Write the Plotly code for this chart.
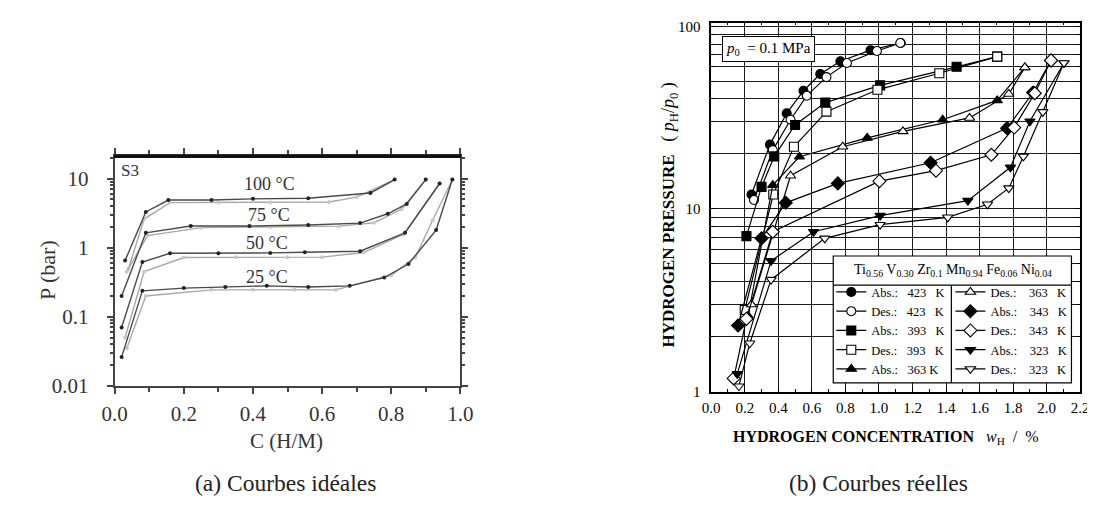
import plotly.graph_objects as go

W, H = 1095, 505

# ---------------- (a) ideal curves : C (H/M) vs P (bar) ----------------
c100_abs = [0.03, 0.09, 0.155, 0.28, 0.40, 0.56, 0.74, 0.81]
p100_abs = [0.65, 3.3, 4.9, 4.9, 5.1, 5.2, 6.2, 9.7]
c100_des = [0.04, 0.085, 0.16, 0.30, 0.45, 0.62, 0.70, 0.81]
p100_des = [0.5, 2.6, 4.5, 4.5, 4.5, 4.6, 5.4, 9.7]

c75_abs = [0.02, 0.09, 0.22, 0.39, 0.56, 0.71, 0.79, 0.845, 0.90]
p75_abs = [0.2, 1.64, 2.06, 2.06, 2.13, 2.27, 3.1, 4.3, 9.7]
c75_des = [0.035, 0.095, 0.25, 0.45, 0.65, 0.75, 0.83, 0.90]
p75_des = [0.45, 1.5, 1.95, 2.0, 2.05, 2.3, 3.6, 9.7]

c50_abs = [0.02, 0.08, 0.16, 0.30, 0.45, 0.55, 0.71, 0.84, 0.94]
p50_abs = [0.07, 0.62, 0.83, 0.83, 0.84, 0.86, 0.89, 1.64, 8.5]
c50_des = [0.03, 0.085, 0.20, 0.35, 0.50, 0.60, 0.72, 0.835, 0.94]
p50_des = [0.05, 0.45, 0.72, 0.73, 0.73, 0.73, 0.85, 1.55, 8.5]

c25_abs = [0.02, 0.08, 0.20, 0.32, 0.44, 0.56, 0.68, 0.78, 0.85, 0.93, 0.977]
p25_abs = [0.026, 0.237, 0.26, 0.27, 0.28, 0.27, 0.28, 0.37, 0.58, 1.8, 9.7]
c25_des = [0.035, 0.09, 0.28, 0.40, 0.52, 0.64, 0.80, 0.87, 0.92, 0.977]
p25_des = [0.035, 0.2, 0.245, 0.245, 0.245, 0.245, 0.4, 0.73, 2.5, 9.7]

temp_labels = ["100 °C", "75 °C", "50 °C", "25 °C"]

xa_ticks = [0.0, 0.2, 0.4, 0.6, 0.8, 1.0]
xa_ticktext = ["0.0", "0.2", "0.4", "0.6", "0.8", "1.0"]
xa_minor = [0.1, 0.3, 0.5, 0.7, 0.9]
ya_ticks = [0.01, 0.1, 1, 10]
ya_ticktext = ["0.01", "0.1", "1", "10"]
ya_minor = [0.02, 0.03, 0.04, 0.05, 0.06, 0.07, 0.08, 0.09,
            0.2, 0.3, 0.4, 0.5, 0.6, 0.7, 0.8, 0.9,
            2, 3, 4, 5, 6, 7, 8, 9, 20]

# ---------------- (b) real curves : w_H (%) vs p_H/p_0 ----------------
w_abs423 = [0.24, 0.35, 0.45, 0.55, 0.65, 0.77, 0.95, 1.13]
p_abs423 = [12.0, 22.5, 33.4, 44.4, 54.8, 64.4, 74, 81]
w_des423 = [0.255, 0.367, 0.473, 0.57, 0.687, 0.809, 0.988, 1.127]
p_des423 = [11.2, 21, 30.8, 41.7, 52.7, 63, 73.3, 81]

w_abs393 = [0.21, 0.30, 0.376, 0.50, 0.68, 1.007, 1.463, 1.705]
p_abs393 = [7.1, 13.2, 19.4, 28.8, 38.2, 47.5, 60, 68.2]
w_des393 = [0.2, 0.37, 0.493, 0.687, 0.991, 1.36, 1.705]
p_des393 = [2.8, 12, 21.9, 34.1, 44.9, 55.3, 68.2]

w_abs363 = [0.22, 0.367, 0.526, 0.93, 1.38, 1.705, 1.87]
p_abs363 = [2.6, 13.5, 19.3, 24.5, 30.8, 39.3, 59.5]
w_des363 = [0.24, 0.473, 0.784, 1.143, 1.54, 1.774, 1.87]
p_des363 = [3.0, 15.2, 21.9, 26.6, 31.5, 42.6, 59.5]

w_abs343 = [0.16, 0.30, 0.444, 0.755, 1.308, 1.764, 1.919, 2.026]
p_abs343 = [2.3, 6.9, 10.8, 13.8, 17.9, 27.7, 43.4, 65]
w_des343 = [0.134, 0.21, 0.367, 1.003, 1.34, 1.67, 1.806, 1.929, 2.026]
p_des343 = [1.18, 2.5, 7.5, 14.2, 16.2, 19.8, 27.9, 43, 65]

w_abs323 = [0.155, 0.357, 0.61, 1.007, 1.53, 1.784, 1.90, 2.103]
p_abs323 = [1.25, 5.2, 7.5, 9.2, 11.1, 16.9, 30.2, 63]
w_des323 = [0.165, 0.23, 0.357, 0.677, 1.007, 1.41, 1.647, 1.774, 1.861, 1.977, 2.103]
p_des323 = [1.07, 1.84, 4.1, 6.9, 8.2, 9.0, 10.6, 13, 19.4, 34, 63]

NB = "\u00a0"
legend_names = [f"Abs.:{NB*3}423{NB*3}K", f"Des.:{NB*3}423{NB*3}K",
                f"Abs.:{NB*3}393{NB*3}K", f"Des.:{NB*3}393{NB*3}K",
                f"Abs.:{NB*3}363{NB*1}K", f"Des.:{NB*4}363{NB*3}K",
                f"Abs.:{NB*4}343{NB*3}K", f"Des.:{NB*4}343{NB*3}K",
                f"Abs.:{NB*4}323{NB*3}K", f"Des.:{NB*4}323{NB*3}K"]

xb_ticks = [0.0, 0.2, 0.4, 0.6, 0.8, 1.0, 1.2, 1.4, 1.6, 1.8, 2.0, 2.2]
xb_ticktext = ["0.0", "0.2", "0.4", "0.6", "0.8", "1.0", "1.2", "1.4", "1.6", "1.8", "2.0", "2.2"]
xb_minor = [0.1, 0.3, 0.5, 0.7, 0.9, 1.1, 1.3, 1.5, 1.7, 1.9, 2.1]
yb_ticks = [1, 10, 100]
yb_ticktext = ["1", "10", "100"]
yb_minor = [2, 3, 4, 5, 6, 7, 8, 9, 20, 30, 40, 50, 60, 70, 80, 90]


def px(x):
    return x / W


def py(y):
    return 1 - y / H


fig = go.Figure()

# ---- (a) traces ----
ABS_C, DES_C = "#4a4a4a", "#a8a8a8"
for cx, cy, col, mcol in [
    (c100_des, p100_des, DES_C, "#c8c8c8"), (c100_abs, p100_abs, ABS_C, "#222"),
    (c75_des, p75_des, DES_C, "#c8c8c8"), (c75_abs, p75_abs, ABS_C, "#222"),
    (c50_des, p50_des, DES_C, "#c8c8c8"), (c50_abs, p50_abs, ABS_C, "#222"),
    (c25_des, p25_des, DES_C, "#c8c8c8"), (c25_abs, p25_abs, ABS_C, "#222"),
]:
    fig.add_trace(go.Scatter(
        x=cx, y=cy, mode="lines+markers", xaxis="x", yaxis="y", showlegend=False,
        line=dict(color=col, width=1.4),
        marker=dict(size=4, color=mcol, line=dict(width=0)),
        hoverinfo="skip"))

# ---- (b) traces ----
series_b = [
    (w_abs423, p_abs423, "circle", True, "legend"),
    (w_des423, p_des423, "circle", False, "legend"),
    (w_abs393, p_abs393, "square", True, "legend"),
    (w_des393, p_des393, "square", False, "legend"),
    (w_abs363, p_abs363, "triangle-up", True, "legend"),
    (w_des363, p_des363, "triangle-up", False, "legend2"),
    (w_abs343, p_abs343, "diamond", True, "legend2"),
    (w_des343, p_des343, "diamond", False, "legend2"),
    (w_abs323, p_abs323, "triangle-down", True, "legend2"),
    (w_des323, p_des323, "triangle-down", False, "legend2"),
]
for (wx, py_, sym, filled, lg), name in zip(series_b, legend_names):
    fig.add_trace(go.Scatter(
        x=wx, y=py_, mode="lines+markers", xaxis="x2", yaxis="y2", name=name, legend=lg,
        line=dict(color="black", width=1.2),
        marker=dict(symbol=sym, size=9 if sym != "diamond" else 10,
                    color="black" if filled else "white",
                    line=dict(color="black", width=1.1)),
        hoverinfo="skip"))

serif = "Liberation Serif"
grey_txt = "#333"

fig.update_layout(
    width=W, height=H,
    margin=dict(l=0, r=0, t=0, b=0),
    paper_bgcolor="white", plot_bgcolor="rgba(0,0,0,0)",
    font=dict(family=serif, color="black"),
    xaxis=dict(domain=[px(96), px(450)], range=[0, 1], anchor="y",
               tickmode="array", tickvals=xa_ticks, ticktext=xa_ticktext,
               ticks="outside", ticklen=6, tickwidth=1.5, tickcolor="#444",
               minor=dict(tickmode="array", tickvals=xa_minor, ticks="outside", ticklen=4, tickcolor="#444"),
               showline=True, linecolor="#444", linewidth=2, mirror="ticks",
               showgrid=False, zeroline=False, ticklabelstandoff=2,
               tickfont=dict(family=serif, size=21, color=grey_txt)),
    yaxis=dict(domain=[py(386), py(149)], type="log", range=[-2, 1.324], anchor="x",
               tickmode="array", tickvals=ya_ticks, ticktext=ya_ticktext,
               ticks="outside", ticklen=6, tickwidth=1.5, tickcolor="#444",
               minor=dict(tickmode="array", tickvals=ya_minor, ticks="outside", ticklen=3, tickcolor="#444"),
               showline=True, linecolor="#444", linewidth=2, mirror="ticks",
               showgrid=False, zeroline=False, ticklabelstandoff=14,
               tickfont=dict(family=serif, size=21, color=grey_txt)),
    xaxis2=dict(domain=[px(707), px(1085)], range=[0, 2.2], anchor="y2",
                tickmode="array", tickvals=xb_ticks, ticktext=xb_ticktext,
                ticks="inside", ticklen=5, tickcolor="black",
                minor=dict(tickmode="array", tickvals=xb_minor, ticks="inside", ticklen=3,
                           tickcolor="black", showgrid=False),
                showline=True, linecolor="black", linewidth=1.5, mirror="ticks",
                showgrid=True, gridcolor="#1a1a1a", gridwidth=1, zeroline=False,
                ticklabelstandoff=2,
                tickfont=dict(family=serif, size=15, color="black")),
    yaxis2=dict(domain=[py(392), py(11)], type="log", range=[0, 2.02], anchor="x2",
                tickmode="array", tickvals=yb_ticks, ticktext=yb_ticktext,
                ticks="inside", ticklen=5, tickcolor="black",
                minor=dict(tickmode="array", tickvals=yb_minor, ticks="inside", ticklen=3,
                           tickcolor="black", showgrid=True, gridcolor="#1a1a1a", gridwidth=1),
                showline=True, linecolor="black", linewidth=1.5, mirror="ticks",
                showgrid=True, gridcolor="#1a1a1a", gridwidth=1, zeroline=False,
                ticklabelstandoff=6,
                tickfont=dict(family=serif, size=15, color="black")),
    legend=dict(x=px(830), y=py(274), xanchor="left", yanchor="top",
                bgcolor="rgba(0,0,0,0)", borderwidth=0, itemwidth=30, tracegroupgap=0,
                font=dict(family=serif, size=12.5, color="black"), traceorder="normal"),
    legend2=dict(x=px(952), y=py(274), xanchor="left", yanchor="top",
                 bgcolor="rgba(0,0,0,0)", borderwidth=0, itemwidth=30, tracegroupgap=0,
                 font=dict(family=serif, size=12.5, color="black"), traceorder="normal"),
)

shapes = [
    # thick top border of (a)
    dict(type="line", xref="paper", yref="paper", x0=px(95), x1=px(451), y0=py(149), y1=py(149),
         line=dict(color="#111", width=3.5)),
    # legend box of (b)
    dict(type="rect", xref="paper", yref="paper", x0=px(832), x1=px(1076), y0=py(383), y1=py(252),
         line=dict(color="black", width=1.2), fillcolor="white", layer="above"),
    dict(type="line", xref="paper", yref="paper", x0=px(832), x1=px(1076), y0=py(282), y1=py(282),
         line=dict(color="black", width=1.2), layer="above"),
    dict(type="line", xref="paper", yref="paper", x0=px(953), x1=px(953), y0=py(282), y1=py(383),
         line=dict(color="black", width=1.2), layer="above"),
]
fig.update_layout(shapes=shapes)


def ann(x, y, text, size, color="black", xanchor="center", textangle=0, **kw):
    fig.add_annotation(x=px(x), y=py(y), xref="paper", yref="paper", text=text, showarrow=False,
                       xanchor=xanchor, yanchor="middle", textangle=textangle,
                       font=dict(family=serif, size=size, color=color), **kw)


# (a) texts
ann(112, 164, "S3", 17, grey_txt)
for lab, (x, y) in zip(temp_labels, [(255, 178), (254, 210), (252, 239), (252, 274)]):
    ann(x, y, lab, 18, grey_txt)
ann(272, 443, "C (H/M)", 21, grey_txt)
ann(27, 266, "P (bar)", 22, grey_txt, textangle=-90)
ann(271, 486, "(a) Courbes idéales", 23.5, "#222")

# (b) texts
ann(766, 38, f"<i>p</i><sub>0</sub>{NB*2}= 0.1 MPa", 15, "black",
    bgcolor="white", bordercolor="black", borderwidth=1, borderpad=3)
ann(955, 267, "Ti<sub>0.56</sub> V<sub>0.30</sub> Zr<sub>0.1</sub> Mn<sub>0.94</sub> Fe<sub>0.06</sub> Ni<sub>0.04</sub>",
    14, "black")
ann(886, 439, f"<b>HYDROGEN CONCENTRATION</b>{NB*3}<i>w</i><sub>H</sub>{NB*2}/{NB*2}%", 16, "black")
ann(664, 210,
    f"<b>HYDROGEN PRESSURE</b>{NB*3}<span style='font-size:18px'>({NB}<i>p</i><sub>H</sub>/<i>p</i><sub>0</sub>{NB})</span>",
    17, "black", textangle=-90)
ann(878, 486, "(b) Courbes réelles", 23.5, "#222")

fig.write_html("out.html")
